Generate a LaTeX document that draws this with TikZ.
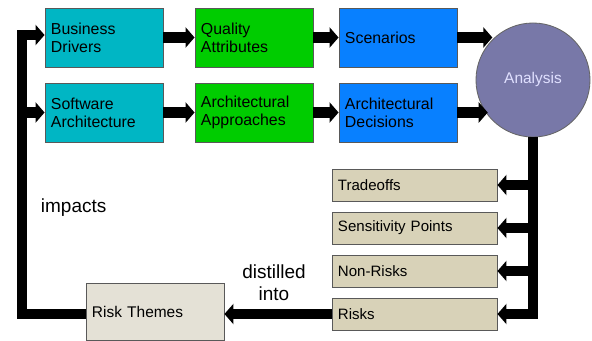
\documentclass[tikz,border=0pt]{standalone}
\usepackage{fontspec}
\setmainfont{Liberation Sans}
\usetikzlibrary{arrows.meta}
\definecolor{drivercyan}{RGB}{0,182,196}
\definecolor{qualgreen}{RGB}{0,204,0}
\definecolor{scenblue}{RGB}{8,128,255}
\definecolor{analysisgray}{RGB}{120,120,168}
\definecolor{resulttan}{RGB}{216,210,184}
\definecolor{themetan}{RGB}{228,225,214}

\begin{document}
\begin{tikzpicture}[x=0.025cm, y=-0.025cm,
    box/.style={draw=black!65, line width=0.6pt, minimum height=1.475cm, text width=2.65cm,
        inner xsep=0.15cm, align=left, font=\fontsize{11.3}{13}\selectfont},
    result/.style={box, fill=resulttan, minimum height=0.8cm, text width=3.825cm,
        font=\fontsize{10.7}{12}\selectfont},
    flow/.style={line width=0.25cm, -{Triangle[length=0.225cm, width=0.5cm]}},
    bar/.style={line width=0.25cm},
    label/.style={font=\fontsize{13.5}{15.6}\selectfont}]
    \useasboundingbox (0,0) rectangle (592,341);

    % Inputs
    \node[box, fill=drivercyan] (bd) at (104,37.5) {Business\\Drivers};
    \node[box, fill=qualgreen] (qa) at (254,37.5) {Quality\\Attributes};
    \node[box, fill=scenblue] (scen) at (398,37.5) {Scenarios};
    \node[box, fill=drivercyan] (sa) at (104,112.5) {Software\\Architecture};
    \node[box, fill=qualgreen] (aa) at (254,112.5) {Architectural\\Approaches};
    \node[box, fill=scenblue] (ad) at (398,112.5) {Architectural\\Decisions};

    % Analysis
    \node[circle, draw=black!60, line width=0.6pt, fill=analysisgray, minimum size=2.85cm,
        text=white!88!blue, font=\fontsize{11}{13}\selectfont] (ana) at (533,80) {Analysis};

    % Outputs
    \node[result] (trade) at (414.5,185) {Tradeoffs};
    \node[result] (sens) at (414.5,228) {Sensitivity Points};
    \node[result] (nonrisk) at (414.5,271) {Non-Risks};
    \node[result] (risk) at (414.5,314) {Risks};
    \node[box, fill=themetan, minimum height=1.425cm, text width=3.15cm,
        font=\fontsize{11}{13}\selectfont] (theme) at (155,312) {Risk Themes};

    % Arrows
    \draw[flow] (bd) -- (qa);
    \draw[flow] (qa) -- (scen);
    \draw[flow] (sa) -- (aa);
    \draw[flow] (aa) -- (ad);
    \draw[flow] (scen.east) -- (ana.135 |- scen.east);
    \draw[flow] (ad.east) -- (ana.218 |- ad.east);
    \draw[bar, shorten >=-0.125cm] (ana.south) -- (ana.south |- risk.east);
    \foreach \out in {trade, sens, nonrisk, risk}
        \draw[flow] (ana.south |- \out.east) -- (\out.east);
    \draw[flow] (risk.west) -- (risk.west -| theme.east);

    % Feedback loop
    \coordinate (bend) at (22,35);
    \draw[flow] (theme.west |- risk.west) -| (bend) -- (bend -| bd.west);
    \draw[flow] (bend |- sa.west) -- (sa.west);

    \node[label, anchor=west] (impacts) at (36,208) {impacts};
    \node[label, align=center] (distilled) at (274,283) {distilled\\into};
\end{tikzpicture}
\end{document}
